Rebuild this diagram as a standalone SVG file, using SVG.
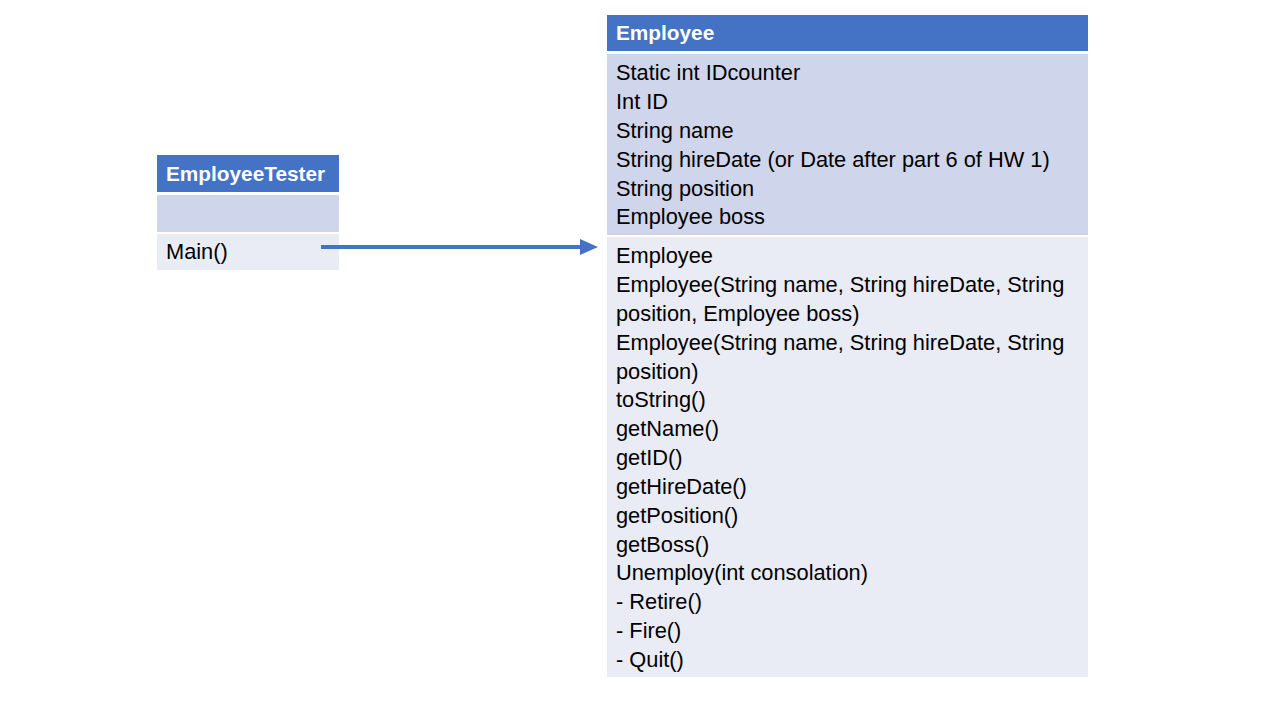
<svg xmlns="http://www.w3.org/2000/svg" width="1280" height="720" viewBox="0 0 1280 720">
<style>
.hdr{fill:#4472C4}
.r1{fill:#CFD5EA}
.r2{fill:#E9EBF5}
.t{font-family:"Liberation Sans",Arial,sans-serif;font-size:21.8px;fill:#000}
.h{font-family:"Liberation Sans",Arial,sans-serif;font-size:20.8px;font-weight:bold;fill:#fff}
</style>
<defs>
<marker id="ah" markerWidth="18" markerHeight="16" refX="2" refY="8" orient="auto" markerUnits="userSpaceOnUse">
<path d="M0,0 L18,8 L0,16 Z" fill="#4472C4"/>
</marker>
</defs>
<rect width="1280" height="720" fill="#fff"/>
<g id="EmployeeTester">
<rect class="hdr" x="157" y="155" width="182" height="37"/>
<rect class="r1" x="157" y="195" width="182" height="37"/>
<rect class="r2" x="157" y="234" width="182" height="36"/>
<text class="h" x="166" y="181">EmployeeTester</text>
<text class="t" x="166" y="259">Main()</text>
</g>
<g id="Employee">
<rect class="hdr" x="607" y="15" width="481" height="36"/>
<rect class="r1" x="607" y="54" width="481" height="181"/>
<rect class="r2" x="607" y="237" width="481" height="440"/>
<text class="h" x="616" y="40">Employee</text>
<text class="t" x="616" y="80">Static int IDcounter</text>
<text class="t" x="616" y="109">Int ID</text>
<text class="t" x="616" y="138">String name</text>
<text class="t" x="616" y="167">String hireDate (or Date after part 6 of HW 1)</text>
<text class="t" x="616" y="196">String position</text>
<text class="t" x="616" y="224">Employee boss</text>
<text class="t" x="616" y="263">Employee</text>
<text class="t" x="616" y="292">Employee(String name, String hireDate, String</text>
<text class="t" x="616" y="321">position, Employee boss)</text>
<text class="t" x="616" y="350">Employee(String name, String hireDate, String</text>
<text class="t" x="616" y="379">position)</text>
<text class="t" x="616" y="407">toString()</text>
<text class="t" x="616" y="436">getName()</text>
<text class="t" x="616" y="465">getID()</text>
<text class="t" x="616" y="494">getHireDate()</text>
<text class="t" x="616" y="523">getPosition()</text>
<text class="t" x="616" y="552">getBoss()</text>
<text class="t" x="616" y="580">Unemploy(int consolation)</text>
<text class="t" x="616" y="609">- Retire()</text>
<text class="t" x="616" y="638">- Fire()</text>
<text class="t" x="616" y="667">- Quit()</text>
</g>
<g id="connectors">
<line x1="321" y1="247" x2="582" y2="247" stroke="#4472C4" stroke-width="4" marker-end="url(#ah)"/>
</g>
</svg>
